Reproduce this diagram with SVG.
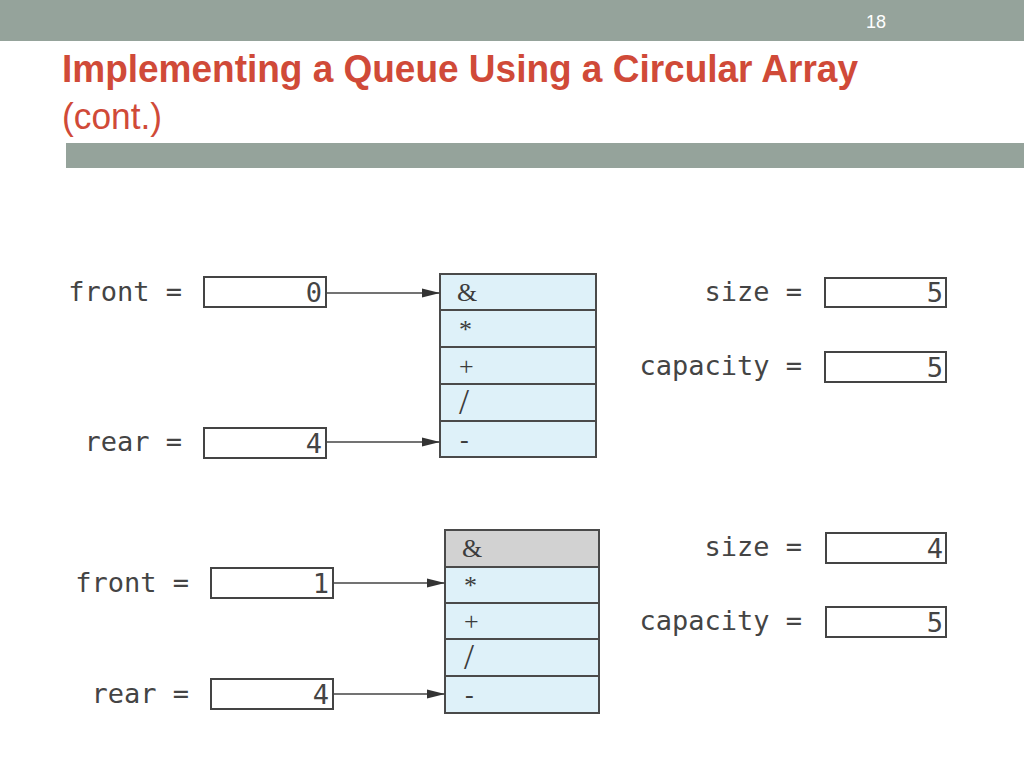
<svg xmlns="http://www.w3.org/2000/svg" width="1024" height="768" viewBox="0 0 1024 768">
<defs>
<style>
.bar{fill:#95a39b}
.title{font-family:"Liberation Sans",Arial,sans-serif;font-weight:bold;font-size:38px;fill:#d04a38}
.sub{font-family:"Liberation Sans",Arial,sans-serif;font-size:36px;fill:#d04a38}
.num{font-family:"Liberation Sans",Arial,sans-serif;font-size:18px;fill:#ffffff}
.lbl{font-family:"DejaVu Sans Mono","Liberation Mono",monospace;font-size:27px;fill:#444444}
.val{font-family:"DejaVu Sans Mono","Liberation Mono",monospace;font-size:27px;fill:#444444;text-anchor:end}
.box{fill:#ffffff;stroke:#444444;stroke-width:2}
.cell{fill:#def1f9;stroke:#4a4a4a;stroke-width:2}
.cellg{fill:#d2d2d2;stroke:#4a4a4a;stroke-width:2}
.ct{font-family:"Liberation Serif","Times New Roman",serif;font-size:26px;fill:#3c3c3c}
.sl{font-family:"Liberation Serif","Times New Roman",serif;font-size:36px;fill:#3c3c3c}
.conn{stroke:#444444;stroke-width:1.6;fill:none}
</style>
<marker id="ah" viewBox="0 0 18 10" refX="18" refY="5" markerWidth="18" markerHeight="10" markerUnits="userSpaceOnUse" orient="auto">
<path d="M0,0.5 L18,5 L0,9.5 Z" fill="#333333"/>
</marker>
</defs>
<rect width="1024" height="768" fill="#ffffff"/>
<rect class="bar" x="0" y="0" width="1024" height="41"/>
<text class="num" x="876" y="28" text-anchor="middle">18</text>
<text class="title" x="62" y="82" textLength="796" lengthAdjust="spacingAndGlyphs">Implementing a Queue Using a Circular Array</text>
<text class="sub" x="62" y="129" textLength="100" lengthAdjust="spacingAndGlyphs">(cont.)</text>
<rect class="bar" x="66" y="143" width="958" height="25"/>

<g id="top-front">
<text class="lbl" x="182" y="301" text-anchor="end">front =</text>
<rect class="box" x="204" y="277" width="122" height="30"/>
<text class="val" x="322" y="302">0</text>
</g>
<g id="top-rear">
<text class="lbl" x="182" y="451" text-anchor="end">rear =</text>
<rect class="box" x="204" y="428" width="122" height="30"/>
<text class="val" x="322" y="453">4</text>
</g>
<g id="top-array">
<rect class="cell" x="440" y="274" width="156" height="36"/>
<rect class="cell" x="440" y="310" width="156" height="37"/>
<rect class="cell" x="440" y="347" width="156" height="37"/>
<rect class="cell" x="440" y="384" width="156" height="37"/>
<rect class="cell" x="440" y="421" width="156" height="36"/>
<text class="ct" x="457" y="301">&amp;</text>
<text class="ct" x="459" y="338">*</text>
<text class="ct" x="459" y="375">+</text>
<text class="sl" x="459" y="414">/</text>
<text class="ct" x="460" y="448">-</text>
</g>
<g id="top-size">
<text class="lbl" x="802" y="301" text-anchor="end">size =</text>
<rect class="box" x="825" y="278" width="121" height="29"/>
<text class="val" x="943" y="302">5</text>
</g>
<g id="top-capacity">
<text class="lbl" x="802" y="375" text-anchor="end">capacity =</text>
<rect class="box" x="825" y="352" width="121" height="30"/>
<text class="val" x="943" y="377">5</text>
</g>

<g id="bot-front">
<text class="lbl" x="189" y="592" text-anchor="end">front =</text>
<rect class="box" x="211" y="568" width="122" height="30"/>
<text class="val" x="329" y="593">1</text>
</g>
<g id="bot-rear">
<text class="lbl" x="189" y="703" text-anchor="end">rear =</text>
<rect class="box" x="211" y="679" width="122" height="30"/>
<text class="val" x="329" y="704">4</text>
</g>
<g id="bot-array">
<rect class="cellg" x="445" y="530" width="154" height="37"/>
<rect class="cell" x="445" y="567" width="154" height="36"/>
<rect class="cell" x="445" y="603" width="154" height="36"/>
<rect class="cell" x="445" y="639" width="154" height="37"/>
<rect class="cell" x="445" y="676" width="154" height="37"/>
<text class="ct" x="462" y="557">&amp;</text>
<text class="ct" x="464" y="594">*</text>
<text class="ct" x="464" y="630">+</text>
<text class="sl" x="464" y="669">/</text>
<text class="ct" x="465" y="703">-</text>
</g>
<g id="bot-size">
<text class="lbl" x="802" y="556" text-anchor="end">size =</text>
<rect class="box" x="826" y="533" width="120" height="30"/>
<text class="val" x="943" y="558">4</text>
</g>
<g id="bot-capacity">
<text class="lbl" x="802" y="630" text-anchor="end">capacity =</text>
<rect class="box" x="826" y="607" width="120" height="30"/>
<text class="val" x="943" y="632">5</text>
</g>

<g id="connectors">
<line class="conn" x1="327" y1="293" x2="440" y2="293" marker-end="url(#ah)"/>
<line class="conn" x1="327" y1="442" x2="440" y2="442" marker-end="url(#ah)"/>
<line class="conn" x1="334" y1="583" x2="445" y2="583" marker-end="url(#ah)"/>
<line class="conn" x1="334" y1="694" x2="445" y2="694" marker-end="url(#ah)"/>
</g>
</svg>
